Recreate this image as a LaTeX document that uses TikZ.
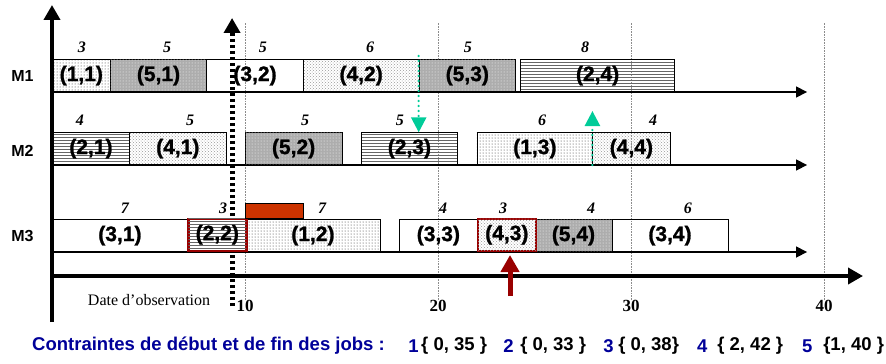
\documentclass[tikz,border=0pt]{standalone}
\usepackage{fontspec}
\setmainfont{Liberation Serif}
\setsansfont{Liberation Sans}
\newfontfamily\heavysans{Liberation Sans}[BoldFeatures={FakeBold=1.2}]
\usetikzlibrary{patterns,arrows.meta}

\definecolor{obsred}{RGB}{153,0,0}
\definecolor{marker}{RGB}{0,204,153}
\definecolor{delay}{RGB}{204,51,0}
\definecolor{jobblue}{RGB}{0,0,153}

\tikzset{
    job/.style={draw, line width=0.7pt, anchor=south west, inner sep=0pt, minimum height=32pt,
        font=\heavysans\bfseries\fontsize{21}{21}\selectfont},
    jobone/.style={pattern=dots, pattern color=black!85},
    jobtwo/.style={pattern=horizontal lines, pattern color=black!60},
    jobthree/.style={},
    jobfour/.style={pattern=crosshatch dots, pattern color=black!40},
    jobfive/.style={fill=black!32, postaction={pattern=dots, pattern color=white}},
    late/.style={draw=obsred, line width=2.5pt, fill=white},
    dur/.style={font=\bfseries\itshape\fontsize{16}{16}\selectfont},
    machine/.style={font=\sffamily\bfseries\fontsize{16}{16}\selectfont},
    tick/.style={font=\bfseries\fontsize{17}{17}\selectfont},
    grid/.style={black!45, line width=0.6pt, densely dotted},
    rowaxis/.style={line width=1.6pt, -{Triangle[length=11pt, width=11pt]}},
    mainaxis/.style={line width=4pt, -{Triangle[length=15pt, width=16pt]}},
    constraint/.style={anchor=west, inner sep=0pt, font=\sffamily\bfseries\fontsize{18.5}{18.5}\selectfont}
}

\begin{document}
\begin{tikzpicture}[x=19.3pt, y=1pt]
    \useasboundingbox (-2.694, 0) rectangle (43.21, 363);
    % grid
    \foreach \t in {10, 20, 30, 40} {
        \draw[grid] (\t, 63) -- (\t, 340);
        \node[tick] (tick\t) at (\t, 57) {\t};
    }
    % observation date
    \coordinate (obsbot) at (9.33, 57);
    \coordinate (obstop) at (9.33, 345);
    \draw[line width=5pt, dash pattern=on 3pt off 3pt, -{Triangle[length=15pt, width=16pt]}] (obsbot) -- (obstop);
    \node[font=\fontsize{16}{16}\selectfont] (obs) at (5.03, 63) {Date d’observation};
    % machine lines
    \coordinate (m1start) at (0, 271); \coordinate (m1end) at (39.12, 271);
    \coordinate (m2start) at (0, 198); \coordinate (m2end) at (39.12, 198);
    \coordinate (m3start) at (0, 111); \coordinate (m3end) at (39.12, 111);
    \draw[rowaxis] (m1start) -- (m1end);
    \draw[rowaxis] (m2start) -- (m2end);
    \draw[rowaxis] (m3start) -- (m3end);
    \node[machine] (m1) at (-1.53, 287) {M1};
    \node[machine] (m2) at (-1.53, 212) {M2};
    \node[machine] (m3) at (-1.53, 127) {M3};
    % M1
    \node[job, jobone, minimum width=3*19.3pt] (j11) at (0, 271) {(1,1)};
    \node[job, jobfive, minimum width=5*19.3pt] (j51) at (3, 271) {(5,1)};
    \node[job, jobthree, minimum width=5*19.3pt] (j32) at (8, 271) {(3,2)};
    \node[job, jobfour, minimum width=6*19.3pt] (j42) at (13, 271) {(4,2)};
    \node[job, jobfive, minimum width=5*19.3pt] (j53) at (19, 271) {(5,3)};
    \node[job, jobtwo, minimum width=8*19.3pt] (j24) at (24.25, 271) {(2,4)};
    \node[dur] (d11) at (1.55, 316) {3}; \node[dur] (d51) at (5.96, 316) {5}; \node[dur] (d32) at (10.93, 316) {5};
    \node[dur] (d42) at (16.48, 316) {6}; \node[dur] (d53) at (21.55, 316) {5}; \node[dur] (d24) at (27.62, 316) {8};
    % M2
    \node[job, jobtwo, minimum width=4*19.3pt] (j21) at (0, 198) {(2,1)};
    \node[job, jobfour, minimum width=5*19.3pt] (j41) at (4, 198) {(4,1)};
    \node[job, jobfive, minimum width=5*19.3pt] (j52) at (10, 198) {(5,2)};
    \node[job, jobtwo, minimum width=5*19.3pt] (j23) at (16, 198) {(2,3)};
    \node[job, jobone, minimum width=6*19.3pt] (j13) at (22, 198) {(1,3)};
    \node[job, jobfour, minimum width=4*19.3pt] (j44) at (28, 198) {(4,4)};
    \node[dur] (d21) at (1.45, 243) {4}; \node[dur] (d41) at (7.15, 243) {5}; \node[dur] (d52) at (13.11, 243) {5};
    \node[dur] (d23) at (18.03, 243) {5}; \node[dur] (d13) at (25.39, 243) {6}; \node[dur] (d44) at (31.14, 243) {4};
    % M3
    \node[job, jobthree, minimum width=7*19.3pt] (j31) at (0, 111) {(3,1)};
    \node[job, jobone, minimum width=7*19.3pt] (j12) at (10, 111) {(1,2)};
    \node[job, jobthree, minimum width=4*19.3pt] (j33) at (18, 111) {(3,3)};
    \node[job, jobfive, minimum width=4*19.3pt] (j54) at (25, 111) {(5,4)};
    \node[job, jobthree, minimum width=6*19.3pt] (j34) at (29, 111) {(3,4)};
    \node[job, late, postaction={pattern=horizontal lines, pattern color=black!60}, minimum width=3*19.3pt] (j22) at (7, 111) {(2,2)};
    \node[job, late, postaction={pattern=crosshatch dots, pattern color=black!40}, minimum width=3*19.3pt] (j43) at (22, 111) {(4,3)};
    \node[dur] (d31) at (3.78, 155) {7}; \node[dur] (d22) at (8.86, 155) {3}; \node[dur] (d12) at (13.99, 155) {7};
    \node[dur] (d33) at (20.26, 155) {4}; \node[dur] (d43) at (23.37, 155) {3}; \node[dur] (d54) at (27.93, 155) {4};
    \node[dur] (d34) at (32.95, 155) {6};
    % delay
    \draw[fill=delay, line width=0.5pt] (10, 145) rectangle (13, 160);
    % markers
    \coordinate (g1) at (19, 307);
    \draw[marker, line width=2.5pt, line cap=round, dash pattern=on 0pt off 5pt, -{Triangle[length=15pt, width=15pt]}] (g1) -- (g1 |- j23.north);
    \coordinate (g2) at (28, 252);
    \draw[marker, line width=2.5pt, line cap=round, dash pattern=on 0pt off 5pt, -{Triangle[length=15pt, width=15pt]}] (j44.south west) -- (g2);
    % time axis
    \coordinate (origin) at (0, 87);
    \coordinate (tend) at (42.02, 87);
    \coordinate (vbot) at (0, 41);
    \coordinate (vtop) at (0, 358);
    \draw[mainaxis] (origin) -- (tend);
    \draw[mainaxis] (vbot) -- (vtop);
    % rescheduling point
    \coordinate (rtail) at (23.73, 67);
    \draw[obsred, line width=5pt, shorten >=3pt, -{Triangle[length=17pt, width=18pt]}] (rtail) -- (rtail |- j43.south);
    % constraints
    \node[constraint, jobblue] (ctitle) at (-1.036, 17) {Contraintes de début et de fin des jobs :};
    \node[constraint, jobblue] (c1) at (18.45, 17) {1}; \node[constraint] (b1) at (19.12, 17) {\{ 0, 35 \}};
    \node[constraint, jobblue] (c2) at (23.37, 17) {2}; \node[constraint] (b2) at (24.25, 17) {\{ 0, 33 \}};
    \node[constraint, jobblue] (c3) at (28.55, 17) {3}; \node[constraint] (b3) at (29.33, 17) {\{ 0, 38\}};
    \node[constraint, jobblue] (c4) at (33.42, 17) {4}; \node[constraint] (b4) at (34.46, 17) {\{ 2, 42 \}};
    \node[constraint, jobblue] (c5) at (38.86, 17) {5}; \node[constraint] (b5) at (39.95, 17) {\{1, 40 \}};
\end{tikzpicture}
\end{document}
